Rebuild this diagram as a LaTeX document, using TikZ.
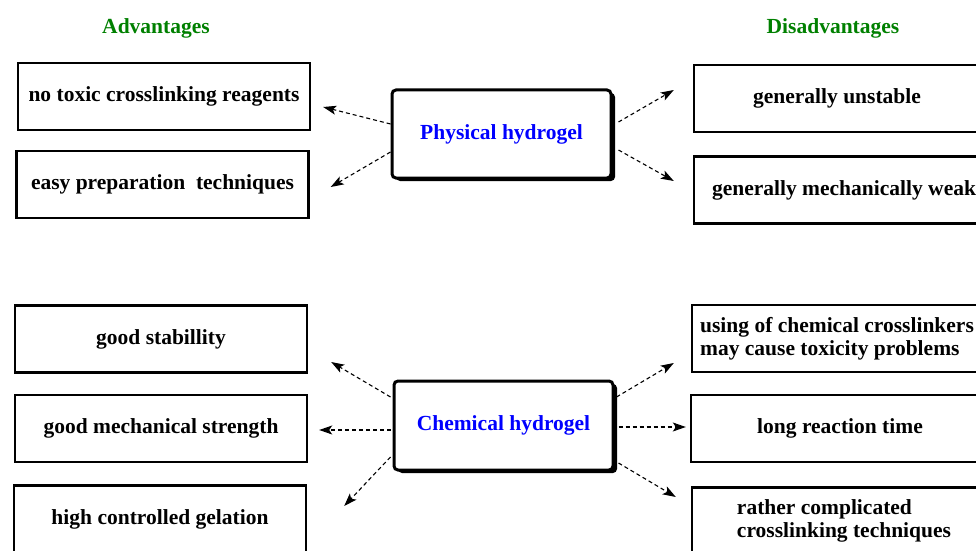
\documentclass[tikz,border=0pt]{standalone}
\usepackage{fontspec}
\setmainfont{Liberation Serif}
\usetikzlibrary{positioning,arrows.meta,shadows}

\definecolor{headgreen}{RGB}{0,128,0}
\definecolor{gelblue}{RGB}{0,0,255}

\begin{document}
\begin{tikzpicture}[x=1pt,y=1pt,
	font=\fontsize{21.5}{23.5}\selectfont\bfseries,
	head/.style={text=headgreen},
	itembox/.style={draw,line width=2.4pt,minimum width=292pt,minimum height=67pt,align=left},
	gelbox/.style={draw,line width=3pt,rounded corners=4pt,fill=white,text=gelblue,
		minimum width=219pt,minimum height=88pt,
		drop shadow={shadow xshift=4pt,shadow yshift=-3pt,fill=black,opacity=1}},
	link/.style={dashed,dash pattern=on 4pt off 3pt,line width=1.1pt,-{Stealth[length=13pt,width=9pt,inset=3pt]}}]

	\useasboundingbox (0,0) rectangle (976,550);

	% headings
	\node [head] (adv) at (156,521.5) {Advantages};
	\node [head] (dis) at (833,521.5) {Disadvantages};

	% physical hydrogel
	\node [gelbox] (phys) at (501.5,416) {Physical hydrogel};
	\node [itembox] (a1) at (164,453.5) {no toxic crosslinking reagents};
	\node [itembox] (a2) at (162.5,365.5) {easy preparation~ techniques};
	\node [itembox,minimum width=286pt] (d1) at (837,451.5) {generally unstable};
	\node [itembox,minimum width=300pt] (d2) at (844,360) {generally mechanically weak};

	% chemical hydrogel
	\node [gelbox,minimum height=89pt] (chem) at (503.5,124.5) {Chemical hydrogel};
	\node [itembox] (a3) at (161,211) {good stabillity};
	\node [itembox] (a4) at (161,121.5) {good mechanical strength};
	\node [itembox] (a5) at (160,31) {high controlled gelation};
	\node [itembox,minimum width=290pt] (d3) at (837,211.5) {using of chemical crosslinkers\\may cause toxicity problems};
	\node [itembox,minimum width=298pt] (d4) at (840,121.5) {long reaction time};
	\node [itembox,minimum width=304pt] (d5) at (844,29) {rather complicated\\crosslinking techniques};

	% arrows
	\draw[link] ([yshift=10]phys.west) -- ([shift={(12,-10.5)}]a1.east);
	\draw[link] ([yshift=-18]phys.west) -- ([shift={(21,-2.5)}]a2.east);
	\draw[link] ([shift={(6,12)}]phys.east) -- ([shift={(-19,8.5)}]d1.west);
	\draw[link] ([shift={(6,-16)}]phys.east) -- ([shift={(-19,9)}]d2.west);

	\draw[link] ([shift={(-2,28.5)}]chem.west) -- ([shift={(23,-23)}]a3.east);
	\draw[link] ([shift={(-2,-4.5)}]chem.west) -- ([shift={(11,-1.5)}]a4.east);
	\draw[link] ([shift={(-2,-31.5)}]chem.west) -- ([shift={(37,13)}]a5.east);
	\draw[link] ([shift={(2,28.5)}]chem.east) -- ([shift={(-17,-24.5)}]d3.west);
	\draw[link] ([shift={(4,-1.5)}]chem.east) -- ([shift={(-4,1.5)}]d4.west);
	\draw[link] ([shift={(4,-37.5)}]chem.east) -- ([shift={(-15,24)}]d5.west);
\end{tikzpicture}
\end{document}
